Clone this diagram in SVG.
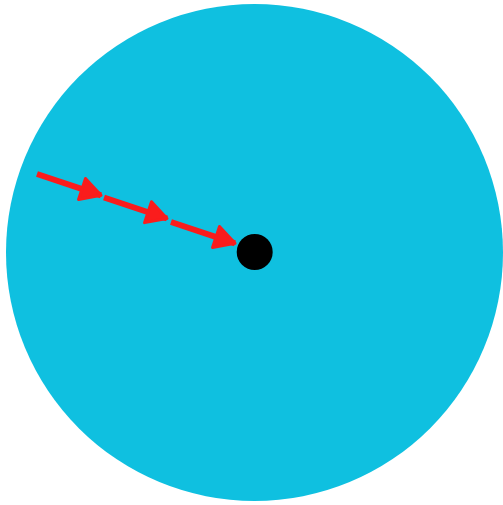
<svg xmlns="http://www.w3.org/2000/svg" width="503" height="505" viewBox="0 0 503 505">
<style>
.conn{stroke:#fa1c1c;stroke-width:6;fill:none;marker-end:url(#arr)}
</style>
<defs>
<marker id="arr" viewBox="0 0 28 28" refX="24" refY="14" markerWidth="28" markerHeight="28" markerUnits="userSpaceOnUse" orient="auto">
<path d="M4,3 L24,14 L4,25 Z" fill="#fa1c1c" stroke="#fa1c1c" stroke-width="3" stroke-linejoin="round"/>
</marker>
</defs>
<rect width="503" height="505" fill="#ffffff"/>
<g id="disk"><circle cx="254.5" cy="252.5" r="248.5" fill="#0fc0e0"/></g>
<g id="center"><circle cx="254.7" cy="252" r="18" fill="#000000"/></g>
<g id="connectors">
<line class="conn" x1="37" y1="174" x2="101" y2="195.3"/>
<line class="conn" x1="104" y1="197.5" x2="167" y2="218.5"/>
<line class="conn" x1="171" y1="222" x2="235" y2="243.3"/>
</g>
</svg>
